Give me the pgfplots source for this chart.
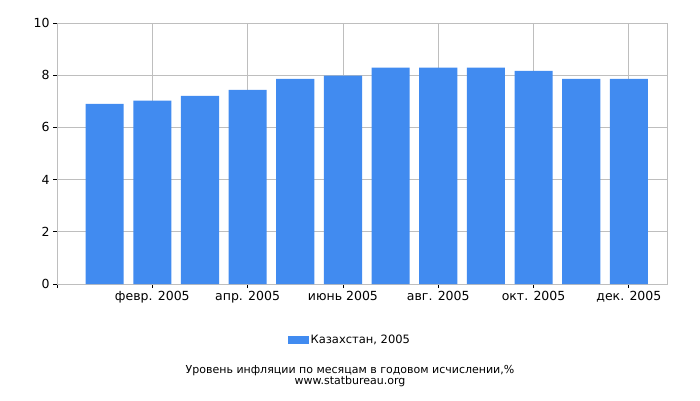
\documentclass[border=0pt]{standalone}
\usepackage{fontspec}
\setmainfont{DejaVu Sans}
\usepackage{pgfplots}
\pgfplotsset{compat=1.18}
\definecolor{barblue}{RGB}{65,139,240}
\definecolor{gridgray}{RGB}{190,190,190}
\begin{document}
\begin{tikzpicture}[x=1pt,y=1pt]
\path (0,0) rectangle (700,400);
\begin{axis}[
    at={(57pt,116pt)}, anchor=south west,
    scale only axis, width=610pt, height=261pt,
    xmin=0, xmax=12.8, ymin=0, ymax=10,
    ybar, bar width=0.8, bar shift=0pt,
    xtick={0,2,4,6,8,10,12},
    xticklabels={,февр. 2005,апр. 2005,июнь 2005,авг. 2005,окт. 2005,дек. 2005},
    ytick={0,2,4,6,8,10},
    xmajorgrids, ymajorgrids,
    grid style={gridgray, line width=0.8pt},
    axis line style={gridgray, line width=0.8pt},
    tick style={black, line width=0.8pt},
    major tick length=4pt,
    tick pos=left, tick align=outside,
    ticklabel style={font=\fontsize{12.5}{14}\selectfont},
    /pgf/number format/assume math mode=true,
    legend style={at={(0.48,-0.2146)}, anchor=center, draw=none,
        font=\fontsize{11.5}{13}\selectfont},
    legend image code/.code={\fill[barblue] (-4pt,-4pt) rectangle (17pt,4pt);},
]
\addplot[fill=barblue, draw=none] coordinates {
    (1,6.9) (2,7.03) (3,7.21) (4,7.44) (5,7.86) (6,7.98)
    (7,8.29) (8,8.29) (9,8.29) (10,8.17) (11,7.86) (12,7.86)
};
\addlegendentry{Казахстан, 2005}
\end{axis}
\node[font=\fontsize{11}{13}\selectfont] at (350,29) {Уровень инфляции по месяцам в годовом исчислении,\%};
\node[font=\fontsize{11}{13}\selectfont] at (350,19) {www.statbureau.org};
\end{tikzpicture}
\end{document}
